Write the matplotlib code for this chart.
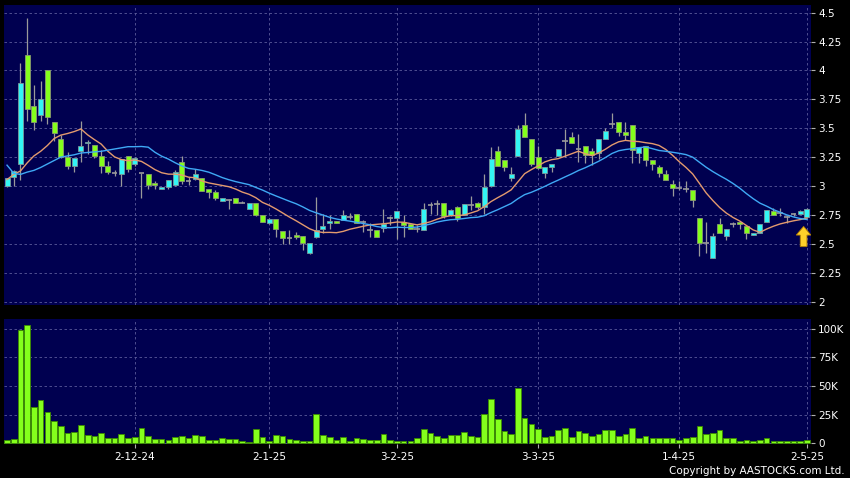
import numpy as np
import pandas as pd
import matplotlib
matplotlib.use("Agg")
import matplotlib.pyplot as plt
from matplotlib.patches import FancyArrow
from matplotlib.ticker import FuncFormatter

# Datos diarios (OHLC), 120 sesiones
opens = [3.00, 3.08, 3.19, 4.13, 3.69, 3.61, 4.00, 3.55, 3.41, 3.25,
         3.17, 3.30, 3.37, 3.355, 3.26, 3.17, 3.11, 3.10, 3.26, 3.19,
         3.11, 3.10, 3.03, 2.97, 2.99, 3.01, 3.21, 3.04, 3.06, 3.07,
         2.975, 2.945, 2.87, 2.88, 2.90, 2.855, 2.80, 2.855, 2.75, 2.68,
         2.71, 2.61, 2.55, 2.575, 2.565, 2.42, 2.555, 2.625, 2.68, 2.70,
         2.705, 2.735, 2.76, 2.685, 2.62, 2.62, 2.64, 2.72, 2.72, 2.69,
         2.675, 2.625, 2.62, 2.835, 2.845, 2.855, 2.75, 2.815, 2.75, 2.835,
         2.855, 2.815, 3.00, 3.305, 3.225, 3.065, 3.26, 3.53, 3.405, 3.255,
         3.115, 3.16, 3.26, 3.385, 3.42, 3.32, 3.35, 3.30, 3.285, 3.405,
         3.535, 3.55, 3.465, 3.525, 3.285, 3.35, 3.225, 3.165, 3.105, 3.015,
         2.98, 2.97, 2.965, 2.72, 2.51, 2.375, 2.675, 2.565, 2.675, 2.69,
         2.65, 2.575, 2.595, 2.69, 2.785, 2.765, 2.73, 2.755, 2.76, 2.73]
highs = [3.07, 3.14, 4.06, 4.45, 3.87, 3.91, 4.00, 3.55, 3.44, 3.29,
         3.24, 3.56, 3.40, 3.355, 3.31, 3.22, 3.14, 3.23, 3.26, 3.25,
         3.11, 3.10, 3.04, 2.99, 3.05, 3.14, 3.26, 3.08, 3.15, 3.07,
         2.975, 2.965, 2.90, 2.885, 2.90, 2.87, 2.85, 2.855, 2.75, 2.72,
         2.71, 2.61, 2.62, 2.60, 2.565, 2.51, 2.905, 2.76, 2.75, 2.70,
         2.79, 2.765, 2.76, 2.705, 2.68, 2.62, 2.80, 2.74, 2.785, 2.75,
         2.675, 2.66, 2.85, 2.865, 2.88, 2.855, 2.80, 2.83, 2.84, 2.91,
         2.86, 3.10, 3.34, 3.35, 3.225, 3.16, 3.53, 3.63, 3.405, 3.35,
         3.16, 3.19, 3.32, 3.49, 3.47, 3.45, 3.35, 3.33, 3.405, 3.50,
         3.635, 3.55, 3.55, 3.525, 3.34, 3.35, 3.225, 3.185, 3.14, 3.05,
         3.04, 3.04, 2.965, 2.72, 2.69, 2.59, 2.72, 2.625, 2.69, 2.69,
         2.65, 2.59, 2.67, 2.79, 2.81, 2.81, 2.75, 2.77, 2.79, 2.81]
lows = [2.99, 3.00, 3.05, 3.56, 3.485, 3.56, 3.54, 3.39, 3.24, 3.15,
        3.125, 3.21, 3.28, 3.24, 3.11, 3.10, 3.09, 3.00, 3.12, 3.17,
        2.90, 2.97, 2.97, 2.97, 2.97, 3.00, 3.02, 3.01, 3.055, 2.96,
        2.90, 2.88, 2.87, 2.80, 2.85, 2.85, 2.80, 2.74, 2.69, 2.67,
        2.56, 2.50, 2.50, 2.54, 2.445, 2.41, 2.55, 2.59, 2.63, 2.68,
        2.705, 2.71, 2.68, 2.605, 2.56, 2.56, 2.60, 2.66, 2.545, 2.56,
        2.63, 2.60, 2.62, 2.76, 2.75, 2.72, 2.74, 2.70, 2.75, 2.79,
        2.80, 2.76, 2.99, 3.17, 3.13, 3.04, 3.26, 3.425, 3.17, 3.15,
        3.065, 3.12, 3.26, 3.255, 3.375, 3.21, 3.20, 3.18, 3.23, 3.405,
        3.50, 3.43, 3.40, 3.20, 3.20, 3.17, 3.14, 3.08, 3.055, 2.91,
        2.965, 2.95, 2.815, 2.39, 2.42, 2.375, 2.59, 2.53, 2.645, 2.63,
        2.545, 2.575, 2.595, 2.69, 2.75, 2.74, 2.68, 2.74, 2.76, 2.73]
closes = [3.07, 3.13, 3.89, 3.67, 3.55, 3.75, 3.60, 3.46, 3.25, 3.17,
          3.24, 3.35, 3.38, 3.26, 3.17, 3.125, 3.11, 3.23, 3.15, 3.24,
          3.11, 3.01, 3.01, 2.99, 3.05, 3.12, 3.04, 3.04, 3.10, 2.96,
          2.945, 2.90, 2.90, 2.88, 2.85, 2.855, 2.85, 2.75, 2.69, 2.71,
          2.63, 2.55, 2.55, 2.555, 2.505, 2.51, 2.62, 2.655, 2.70, 2.68,
          2.745, 2.735, 2.68, 2.685, 2.62, 2.56, 2.67, 2.72, 2.785, 2.66,
          2.63, 2.625, 2.80, 2.835, 2.845, 2.74, 2.795, 2.72, 2.84, 2.835,
          2.815, 2.995, 3.23, 3.175, 3.16, 3.10, 3.49, 3.425, 3.19, 3.155,
          3.16, 3.19, 3.32, 3.385, 3.375, 3.32, 3.27, 3.27, 3.405, 3.48,
          3.535, 3.465, 3.44, 3.315, 3.34, 3.225, 3.19, 3.11, 3.055, 2.98,
          2.98, 2.97, 2.875, 2.505, 2.51, 2.565, 2.59, 2.625, 2.675, 2.67,
          2.59, 2.59, 2.67, 2.79, 2.75, 2.765, 2.73, 2.755, 2.78, 2.805]
# Volumen en miles
volumes = [2.9, 3.8, 99, 103.5, 32, 38, 27, 19.5, 15.2, 9.3,
           9.9, 15.5, 7.3, 6.4, 8.7, 4.4, 4.4, 8.2, 4.4, 5.5,
           13.7, 6.4, 3.8, 3.8, 3.2, 5.8, 6.1, 4.1, 7.3, 6.4,
           2.6, 2.6, 4.7, 3.8, 3.8, 2.0, 1.2, 12.2, 5.2, 2.3,
           7.3, 6.7, 3.8, 3.2, 2.3, 2.3, 25.4, 7.3, 5.5, 2.9,
           5.0, 1.7, 4.7, 3.8, 2.6, 2.9, 8.2, 3.2, 2.3, 2.3,
           2.0, 4.4, 12.5, 9.0, 6.4, 4.7, 7.3, 7.0, 9.6, 6.4,
           5.2, 25.4, 38.8, 21.0, 10.5, 7.6, 48.4, 21.6, 16.9, 12.2,
           5.8, 6.4, 11.4, 13.4, 5.5, 10.5, 8.7, 6.4, 8.2, 11.7,
           11.7, 6.4, 7.9, 13.7, 4.4, 6.1, 4.4, 4.4, 4.1, 4.1,
           2.9, 4.4, 5.2, 14.9, 8.2, 8.7, 11.7, 4.1, 4.1, 2.0,
           2.6, 2.0, 2.6, 4.1, 2.3, 2.0, 2.0, 1.5, 2.3, 2.5]

# Medias móviles al inicio (dependen de sesiones anteriores)
ma10_inicio = [3.055, 3.10, 3.13, 3.20, 3.26, 3.30, 3.35, 3.41, 3.44]
ma20_inicio = [3.18, 3.11, 3.10, 3.12, 3.135, 3.16, 3.19, 3.22, 3.25, 3.26,
               3.27, 3.285, 3.29, 3.295, 3.30, 3.31, 3.32, 3.33, 3.34]

fechas = ["2-12-24", "2-1-25", "3-2-25", "3-3-25", "1-4-25", "2-5-25"]
fechas_idx = [19, 39, 58, 79, 100, 119]

precio_ticks = [2, 2.25, 2.5, 2.75, 3, 3.25, 3.5, 3.75, 4, 4.25, 4.5]
vol_ticks = [0, 25, 50, 75, 100]

# Colores
FONDO = "#000050"
REJILLA = "#5a5a9a"
CIAN = "#33f5f5"
VERDE = "#84ff1c"
GRIS = "#9a9a9a"

df = pd.DataFrame({"o": opens, "h": highs, "l": lows, "c": closes, "v": volumes})
x = np.arange(len(df))

ma10 = df["c"].rolling(10).mean().to_numpy()
ma20 = df["c"].rolling(20).mean().to_numpy()
ma10[: len(ma10_inicio)] = ma10_inicio
ma20[: len(ma20_inicio)] = ma20_inicio

fig = plt.figure(figsize=(8.5, 4.78), dpi=100, facecolor="black")
ax = fig.add_axes([4 / 850, 1 - 305 / 478, 807 / 850, 300 / 478])
axv = fig.add_axes([4 / 850, 1 - 443.5 / 478, 807 / 850, 124.5 / 478])

for a in (ax, axv):
    a.set_facecolor(FONDO)
    for s in a.spines.values():
        s.set_visible(False)
    a.set_xlim(-0.45, 119.6)
    a.set_axisbelow(True)
    a.grid(True, color=REJILLA, linestyle=(0, (3, 3)), linewidth=0.6)
    a.yaxis.tick_right()
    a.tick_params(axis="y", direction="out", length=3, width=0.8,
                  color="#b0b0b0", labelcolor="white", labelsize=7.5, pad=2)
    a.set_xticks(fechas_idx)

# Velas
sube = df["c"] > df["o"]
baja = df["c"] < df["o"]
doji = df["c"] == df["o"]

ax.vlines(x, df["l"], df["h"], color=GRIS, linewidth=0.9, zorder=2)
cuerpo_base = np.minimum(df["o"], df["c"])
cuerpo_alto = np.abs(df["c"] - df["o"])
ax.bar(x[sube], cuerpo_alto[sube], bottom=cuerpo_base[sube], width=0.74,
       color=CIAN, edgecolor="#7a9a9a", linewidth=0.6, zorder=3)
ax.bar(x[baja], cuerpo_alto[baja], bottom=cuerpo_base[baja], width=0.74,
       color=VERDE, edgecolor="#8a9a70", linewidth=0.6, zorder=3)
ax.hlines(df["c"][doji], x[doji] - 0.42, x[doji] + 0.42, color=GRIS,
          linewidth=1.2, zorder=3)

# Medias móviles
ax.plot(x, ma10, color="#e39a6e", linewidth=1.0, zorder=4)
ax.plot(x, ma20, color="#3fa9f5", linewidth=1.0, zorder=4)

# Flecha bajo la última vela
ult = len(df) - 1
punta = df["l"].iloc[-1] - 0.08
ax.add_patch(FancyArrow(ult - 0.5, punta - 0.175, 0, 0.175, width=1.0,
                        head_width=2.2, head_length=0.075,
                        length_includes_head=True, facecolor="#ffd02a",
                        edgecolor="#b07a00", linewidth=0.6, zorder=5))

ax.set_ylim(1.97, 4.566)
ax.set_yticks(precio_ticks)
ax.yaxis.set_major_formatter(FuncFormatter(lambda v, p: f"{v:g}"))
ax.tick_params(axis="x", length=0, labelbottom=False)

# Volumen
axv.bar(x, df["v"], width=0.84, color=VERDE, edgecolor="#3c8a00",
        linewidth=0.6, zorder=3)
axv.set_ylim(-0.3, 108.7)
axv.set_yticks(vol_ticks)
axv.set_yticklabels(["0" if v == 0 else f"{v}K" for v in vol_ticks])
axv.set_xticklabels(fechas)
axv.tick_params(axis="x", direction="out", length=3, width=0.8,
                color="#b0b0b0", labelcolor="white", labelsize=7.5, pad=3)

fig.text(0.994, 0.004, "Copyright by AASTOCKS.com Ltd.", color="white",
         fontsize=7.5, ha="right", va="bottom")

fig.savefig("out.png", dpi=100, facecolor="black")
